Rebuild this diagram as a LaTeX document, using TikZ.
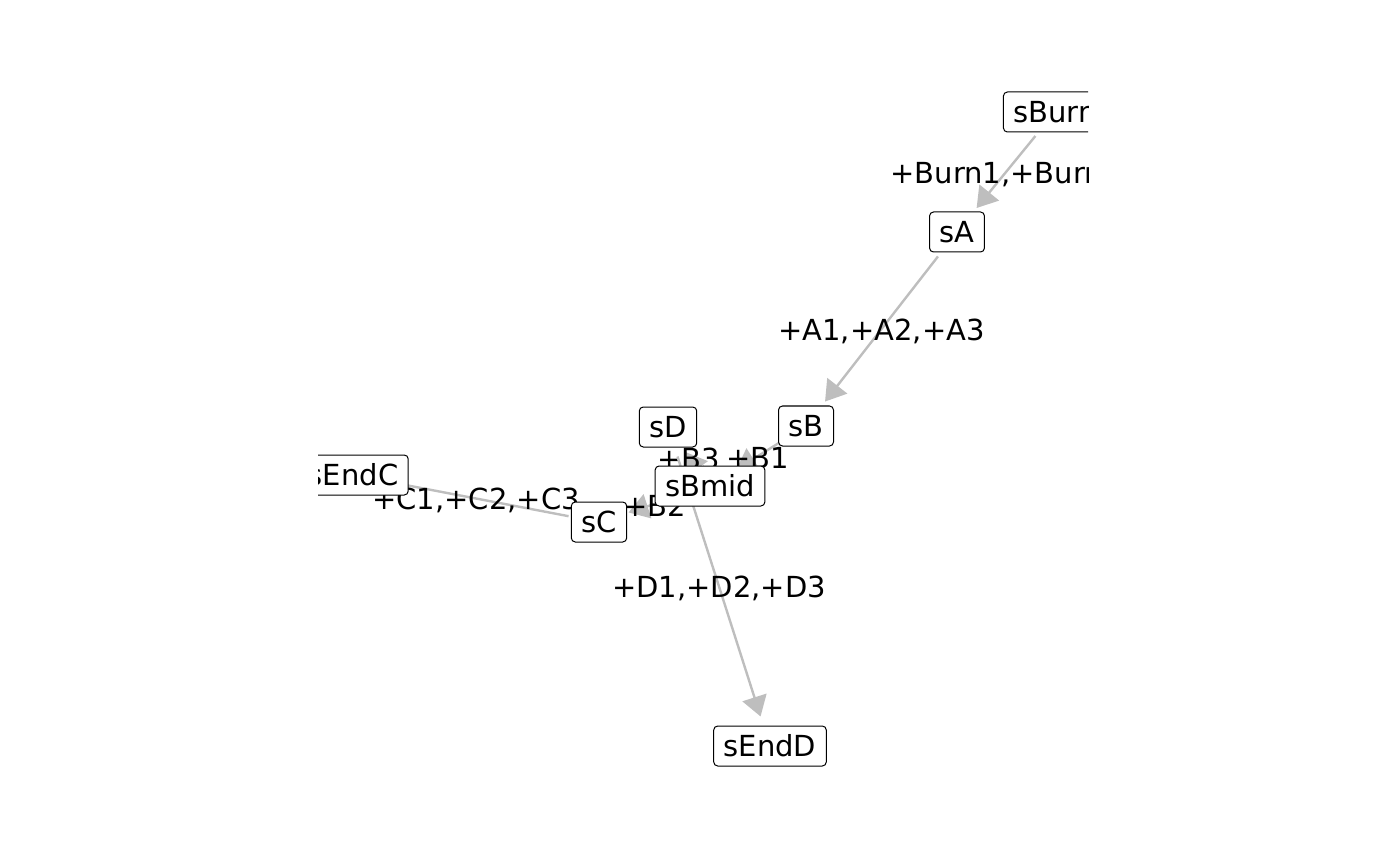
\documentclass[tikz,border=0pt]{standalone}
\usepackage{fontspec}
\setmainfont{DejaVu Sans}
\usetikzlibrary{arrows.meta, backgrounds}
\definecolor{edgegray}{HTML}{BEBEBE}

\begin{document}
\begin{tikzpicture}[
  x=0.5pt, y=-0.5pt,
  state/.style = {
    draw=black, fill=white, rounded corners=2pt, line width=0.5pt,
    inner xsep=5pt, inner ysep=0pt, minimum height=20pt,
    text height=10.6pt, text depth=0pt, font=\fontsize{14.5pt}{17pt}\selectfont
  },
  arr/.style = {draw=edgegray, line width=1.2pt, -{Triangle[length=10pt, width=12.5pt]},
    shorten <=15.5pt, shorten >=15.5pt},
  elabel/.style = {font=\fontsize{14.5pt}{17pt}\selectfont, text=black, inner sep=0pt,
    yshift=-1pt},
]
\useasboundingbox (0,0) rectangle (1400,865);
\clip (318,0) rectangle (1088,865);

% states
\node[state] (sBurn) at (1055,112) {sBurn};
\node[state] (sA)    at (957,232)  {sA};
\node[state] (sB)    at (806,426)  {sB};
\node[state] (sD)    at (668,427)  {sD};
\node[state] (sBmid) at (710,486)  {sBmid};
\node[state] (sC)    at (599,522)  {sC};
\node[state] (sEndC) at (353,475)  {sEndC};
\node[state] (sEndD) at (770,746)  {sEndD};

% transitions
\begin{scope}[on background layer]
  \clip (318,0) rectangle (1088,865);
  \draw[arr] (sBurn.center) -- node[elabel] (lBurn) {+Burn1,+Burn2} (sA.center);
  \draw[arr] (sA.center)    -- node[elabel] (lA)    {+A1,+A2,+A3} (sB.center);
  \draw[arr] (sB.center)    -- node[elabel] (lB1)   {+B1} (sBmid.center);
  \draw[arr] (sBmid.center) -- node[elabel] (lB2)   {+B2} (sC.center);
  \draw[arr] (sBmid.center) -- node[elabel] (lB3)   {+B3} (sD.center);
  \draw[arr] (sC.center)    -- node[elabel] (lC)    {+C1,+C2,+C3} (sEndC.center);
  \draw[arr] (sD.center)    -- node[elabel] (lD)    {+D1,+D2,+D3} (sEndD.center);
\end{scope}

\end{tikzpicture}
\end{document}
